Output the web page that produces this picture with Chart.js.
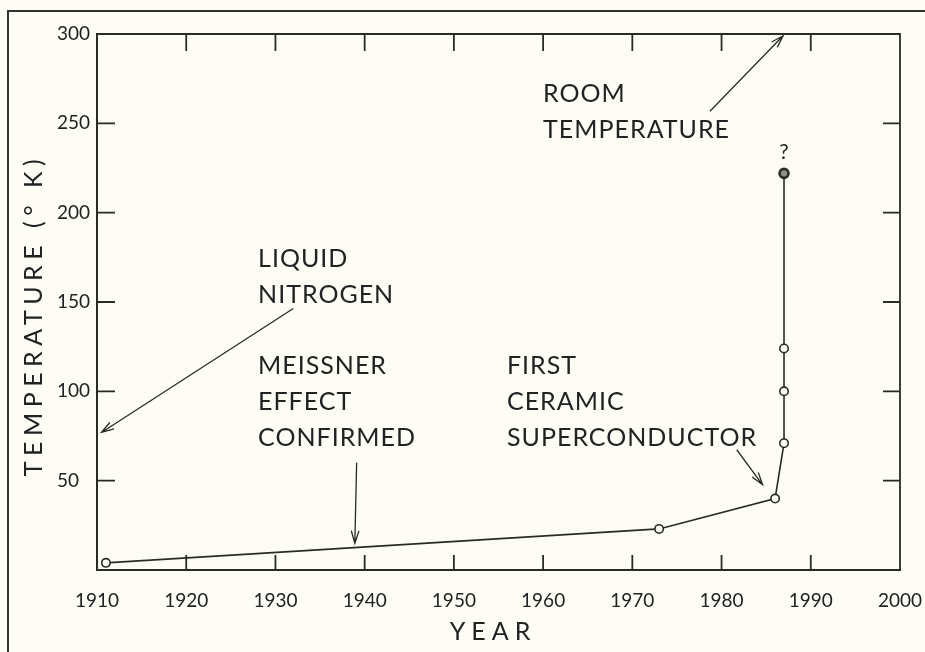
<!DOCTYPE html>
<html>
<head>
<meta charset="utf-8">
<script src="https://cdn.jsdelivr.net/npm/chart.js@4.4.0/dist/chart.umd.min.js"></script>
<style>
  html, body { margin: 0; padding: 0; background: #fdfdf6; }
  #wrap { width: 925px; height: 652px; }
</style>
</head>
<body>
<div id="wrap"><canvas id="tcChart" width="925" height="652"></canvas></div>
<script>
(function () {
  "use strict";

  // Record critical temperatures by year of discovery
  const years = [1911, 1973, 1986, 1987, 1987, 1987, 1987];
  const temps = [4, 23, 40, 71, 100, 124, 222];

  const yearTicks = [1910, 1920, 1930, 1940, 1950, 1960, 1970, 1980, 1990, 2000];
  const tempTicks = [50, 100, 150, 200, 250, 300];

  const ink = "#2b2b26";
  const font = "Lato, 'Open Sans', sans-serif";

  // Callouts: text block anchored at [year, temp], arrow from -> to in data units
  const notes = [
    { lines: ["LIQUID", "NITROGEN"], at: [1928.05, 174], from: [1932, 146.4], to: [1910.5, 77] },
    { lines: ["MEISSNER", "EFFECT", "CONFIRMED"], at: [1928.05, 114], from: [1939.1, 60], to: [1938.9, 15] },
    { lines: ["FIRST", "CERAMIC", "SUPERCONDUCTOR"], at: [1955.95, 114.4], from: [1981.7, 67.3], to: [1984.6, 47.7] },
    { lines: ["ROOM", "TEMPERATURE"], at: [1960, 266.4], from: [1978.7, 256.8], to: [1986.9, 299] }
  ];

  function arrow(ctx, x1, y1, x2, y2) {
    const ang = Math.atan2(y2 - y1, x2 - x1);
    const head = 13, spread = 0.3;
    ctx.beginPath();
    ctx.moveTo(x1, y1);
    ctx.lineTo(x2, y2);
    ctx.moveTo(x2 - head * Math.cos(ang - spread), y2 - head * Math.sin(ang - spread));
    ctx.lineTo(x2, y2);
    ctx.lineTo(x2 - head * Math.cos(ang + spread), y2 - head * Math.sin(ang + spread));
    ctx.stroke();
  }

  const frame = {
    id: "frame",
    beforeDraw(chart) {
      const { ctx, width, height } = chart;
      ctx.save();
      ctx.fillStyle = "#fdfdf6";
      ctx.fillRect(0, 0, width, height);
      // outer page border (left and top edges)
      ctx.strokeStyle = "#333";
      ctx.lineWidth = 2;
      ctx.beginPath();
      ctx.moveTo(8, height);
      ctx.lineTo(8, 11);
      ctx.lineTo(width, 11);
      ctx.stroke();
      ctx.restore();
    },
    beforeDatasetsDraw(chart) {
      const { ctx, chartArea: a, scales: { x, y } } = chart;
      ctx.save();
      ctx.strokeStyle = ink;
      ctx.lineWidth = 1.8;
      ctx.beginPath();
      // top and right sides of the box
      ctx.moveTo(a.left, a.top);
      ctx.lineTo(a.right, a.top);
      ctx.lineTo(a.right, a.bottom);
      // inward ticks on all four sides
      x.ticks.forEach(t => {
        if (t.value <= x.min || t.value >= x.max) return;
        const px = x.getPixelForValue(t.value);
        ctx.moveTo(px, a.bottom); ctx.lineTo(px, a.bottom - 15);
        ctx.moveTo(px, a.top); ctx.lineTo(px, a.top + 17);
      });
      y.ticks.forEach(t => {
        if (t.value <= y.min || t.value >= y.max) return;
        const py = y.getPixelForValue(t.value);
        ctx.moveTo(a.left, py); ctx.lineTo(a.left + 18, py);
        ctx.moveTo(a.right, py); ctx.lineTo(a.right - 17, py);
      });
      ctx.stroke();
      ctx.restore();
    },
    afterDraw(chart) {
      const { ctx, chartArea: a, scales: { x, y } } = chart;
      ctx.save();
      ctx.fillStyle = "#222";
      ctx.strokeStyle = ink;
      ctx.lineWidth = 1.3;
      ctx.textBaseline = "middle";
      ctx.textAlign = "left";
      ctx.font = "25px " + font;
      ctx.letterSpacing = "1px";
      notes.forEach(n => {
        const tx = x.getPixelForValue(n.at[0]);
        const ty = y.getPixelForValue(n.at[1]);
        n.lines.forEach((s, i) => ctx.fillText(s, tx, ty + i * 36));
        arrow(ctx, x.getPixelForValue(n.from[0]), y.getPixelForValue(n.from[1]),
          x.getPixelForValue(n.to[0]), y.getPixelForValue(n.to[1]));
      });

      // question mark over the highest point
      const last = years.length - 1;
      ctx.font = "21px " + font;
      ctx.letterSpacing = "0px";
      ctx.textAlign = "center";
      ctx.fillText("?", x.getPixelForValue(years[last]), y.getPixelForValue(temps[last]) - 21);

      // axis titles
      ctx.font = "25px " + font;
      ctx.letterSpacing = "6px";
      ctx.fillText("YEAR", 493, 632);
      ctx.translate(34, (a.top + a.bottom) / 2 + 13);
      ctx.rotate(-Math.PI / 2);
      ctx.letterSpacing = "5.5px";
      ctx.fillText("TEMPERATURE (° K)", 0, 0);
      ctx.restore();
    }
  };

  const points = years.map((yr, i) => ({ x: yr, y: temps[i] }));

  new Chart(document.getElementById("tcChart"), {
    type: "line",
    data: {
      datasets: [{
        data: points,
        borderColor: ink,
        borderWidth: 1.6,
        tension: 0,
        pointRadius: ctx => ctx.dataIndex === years.length - 1 ? 4.5 : 4.2,
        pointBorderWidth: ctx => ctx.dataIndex === years.length - 1 ? 2.6 : 1.6,
        pointBorderColor: ink,
        pointBackgroundColor: ctx => ctx.dataIndex === years.length - 1 ? "#8f8f86" : "#fdfdf6"
      }]
    },
    options: {
      responsive: false,
      animation: false,
      devicePixelRatio: 1,
      layout: { padding: { left: 18, top: 34, right: 25, bottom: 4 } },
      plugins: { legend: { display: false }, tooltip: { enabled: false } },
      scales: {
        x: {
          type: "linear",
          min: 1910,
          max: 2000,
          afterBuildTicks: s => { s.ticks = yearTicks.map(v => ({ value: v })); },
          afterFit: s => { s.height = 78; s.paddingLeft = 0; s.paddingRight = 0; },
          grid: { display: false, drawTicks: false },
          border: { display: true, color: ink, width: 2 },
          ticks: {
            padding: 19,
            color: "#222",
            font: { family: font, size: 19 },
            callback: v => String(v)
          }
        },
        y: {
          type: "linear",
          min: 0,
          max: 300,
          afterBuildTicks: s => { s.ticks = tempTicks.map(v => ({ value: v })); },
          afterFit: s => { s.width = 79; s.paddingTop = 0; s.paddingBottom = 0; },
          grid: { display: false, drawTicks: false },
          border: { display: true, color: ink, width: 2 },
          ticks: {
            mirror: true,
            padding: -40,
            color: "#222",
            font: { family: font, size: 19 },
            callback: v => String(v)
          }
        }
      }
    },
    plugins: [frame]
  });
})();
</script>
</body>
</html>
